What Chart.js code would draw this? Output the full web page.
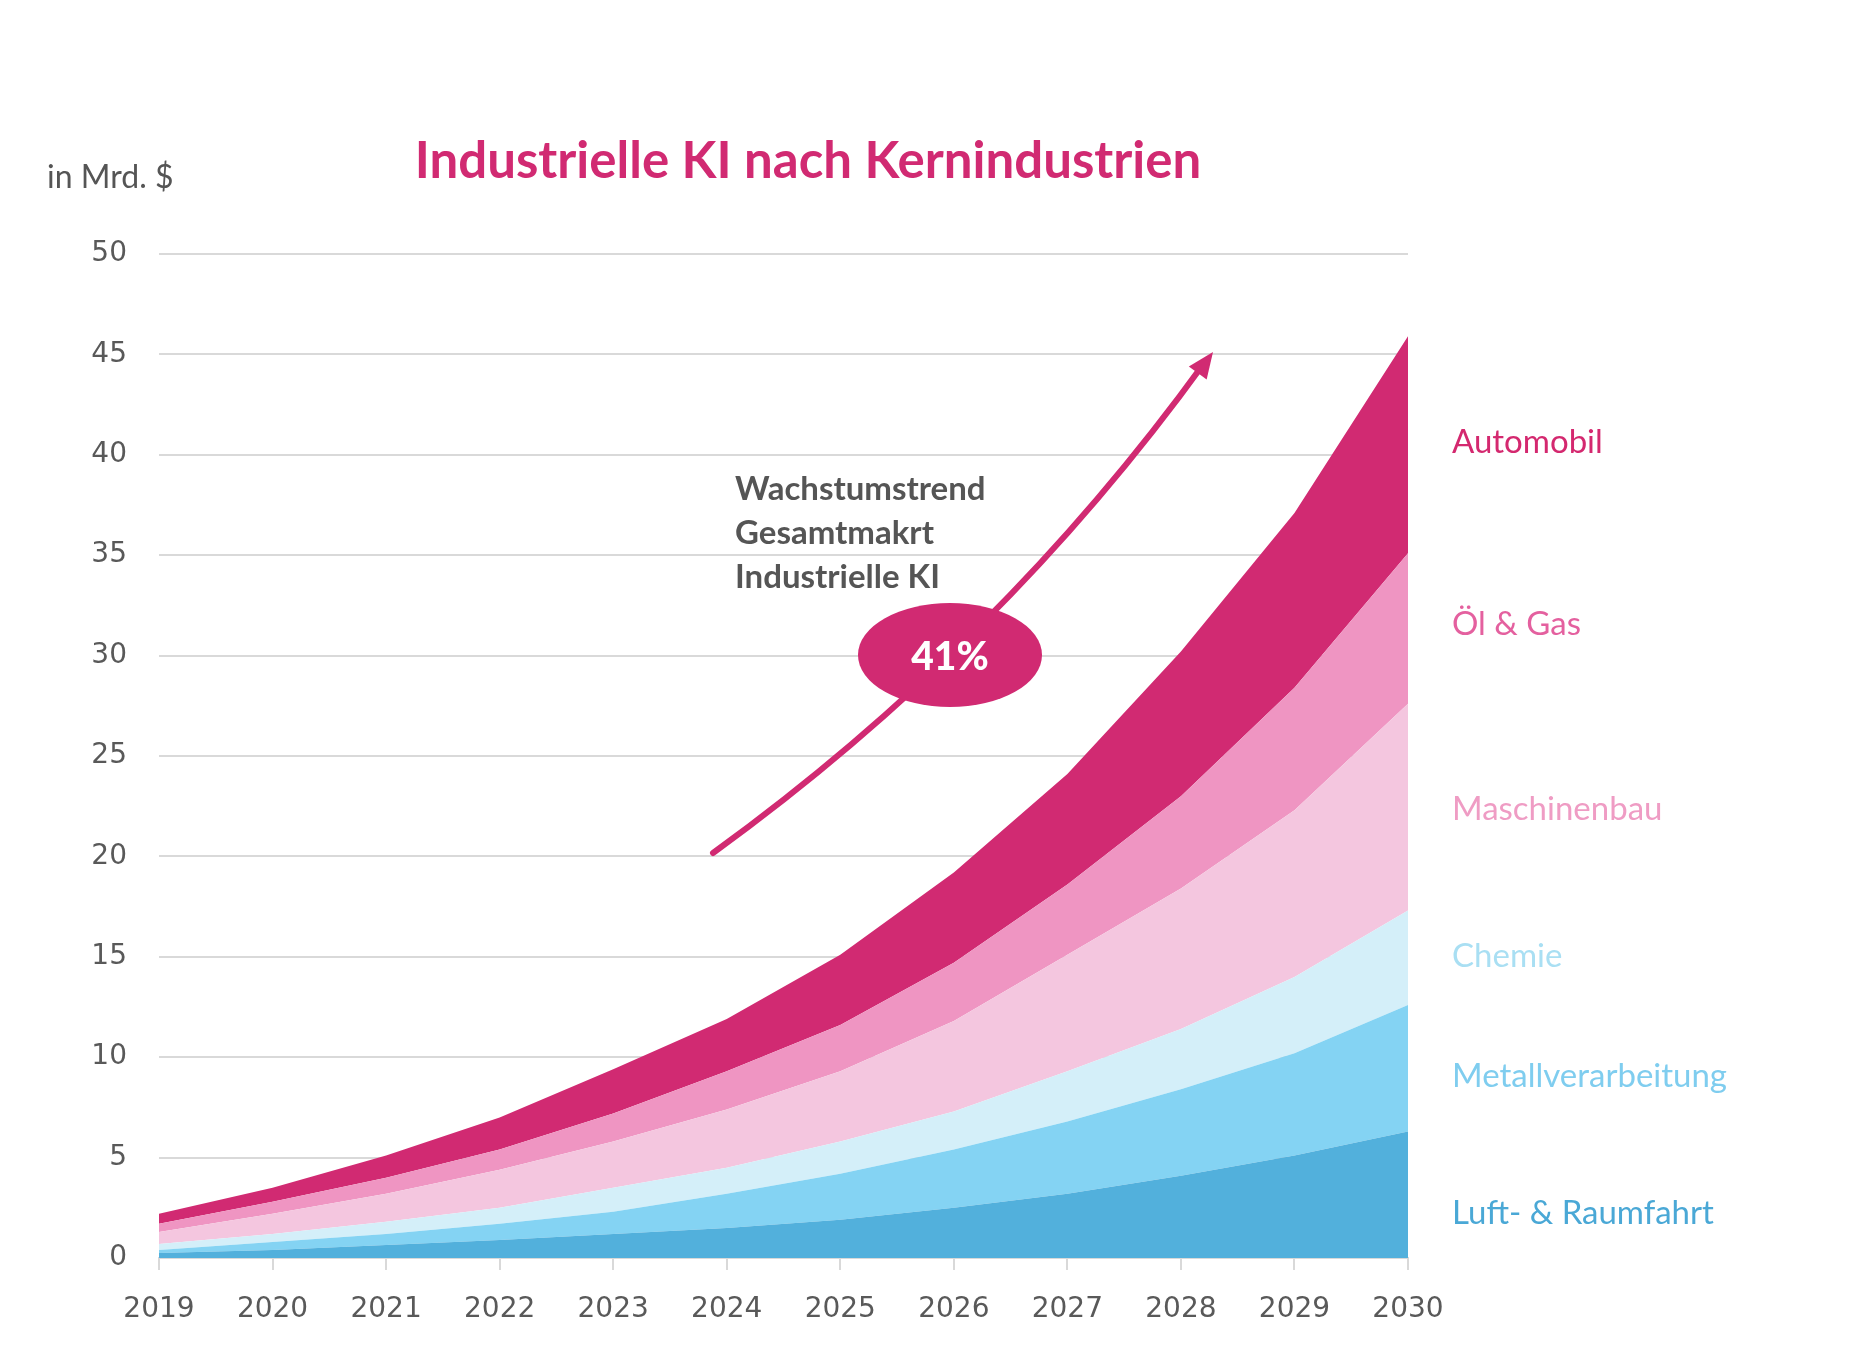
<!DOCTYPE html>
<html>
<head>
<meta charset="utf-8">
<script src="https://cdn.jsdelivr.net/npm/chart.js@4.4.1/dist/chart.umd.min.js"></script>
<style>
  html, body { margin: 0; padding: 0; background: #fff; }
  #wrap { width: 1858px; height: 1353px; position: relative; }
</style>
</head>
<body>
<div id="wrap"><canvas id="myChart" width="1858" height="1353"></canvas></div>
<script>
// data (in Mrd. $), stacked bottom to top
const years = ['2019', '2020', '2021', '2022', '2023', '2024', '2025', '2026', '2027', '2028', '2029', '2030'];
const luftRaumfahrt = [0.25, 0.4, 0.65, 0.9, 1.2, 1.5, 1.9, 2.5, 3.2, 4.1, 5.1, 6.3];
const metallverarbeitung = [0.15, 0.4, 0.55, 0.8, 1.1, 1.7, 2.3, 2.9, 3.6, 4.3, 5.1, 6.3];
const chemie = [0.3, 0.4, 0.6, 0.8, 1.2, 1.3, 1.6, 1.9, 2.5, 3.0, 3.8, 4.7];
const maschinenbau = [0.6, 1.0, 1.4, 1.9, 2.3, 2.9, 3.5, 4.5, 5.8, 7.0, 8.3, 10.3];
const oelGas = [0.4, 0.6, 0.8, 1.0, 1.4, 1.9, 2.3, 2.9, 3.5, 4.6, 6.1, 7.5];
const automobil = [0.5, 0.7, 1.1, 1.6, 2.2, 2.6, 3.5, 4.5, 5.5, 7.2, 8.7, 10.8];
const yTicks = [0, 5, 10, 15, 20, 25, 30, 35, 40, 45, 50];
const growthRate = '41%';

const magenta = '#d12a72';

function area(label, values, color, fillMode) {
  return {
    label: label,
    data: values,
    backgroundColor: color,
    borderColor: color,
    borderWidth: 0,
    pointRadius: 0,
    tension: 0,
    fill: fillMode
  };
}

const datasets = [
  area('Luft- & Raumfahrt', luftRaumfahrt, '#52b0dc', 'origin'),
  area('Metallverarbeitung', metallverarbeitung, '#84d3f3', '-1'),
  area('Chemie', chemie, '#d4eff9', '-1'),
  area('Maschinenbau', maschinenbau, '#f4c6df', '-1'),
  area('Öl & Gas', oelGas, '#ef95c2', '-1'),
  area('Automobil', automobil, magenta, '-1')
];

// labels at the right side, with their colours
const sideLabels = [
  { text: 'Automobil', y: 442, color: '#d4286f' },
  { text: 'Öl & Gas', y: 624, color: '#e4609f' },
  { text: 'Maschinenbau', y: 809, color: '#ef9cc4' },
  { text: 'Chemie', y: 956, color: '#a9dff3' },
  { text: 'Metallverarbeitung', y: 1076, color: '#7fcdef' },
  { text: 'Luft- & Raumfahrt', y: 1213, color: '#4aa8d6' }
];

const decorations = {
  id: 'decorations',
  afterDraw(chart) {
    const c = chart.ctx;
    c.save();

    // title
    c.fillStyle = magenta;
    c.font = 'bold 51px Lato';
    c.textAlign = 'center';
    c.textBaseline = 'middle';
    c.fillText('Industrielle KI nach Kernindustrien', 808, 162);

    // unit
    c.fillStyle = '#555555';
    c.font = '32px Lato';
    c.textAlign = 'left';
    c.fillText('in Mrd. $', 47, 178);

    // side labels
    c.font = '33px Lato';
    sideLabels.forEach(function (s) {
      c.fillStyle = s.color;
      c.fillText(s.text, 1452, s.y);
    });

    // trend arrow
    const x0 = 713, y0 = 853, cx = 1000, cy = 645, x1 = 1205, y1 = 362;
    c.strokeStyle = magenta;
    c.lineWidth = 6;
    c.lineCap = 'round';
    c.beginPath();
    c.moveTo(x0, y0);
    c.quadraticCurveTo(cx, cy, x1, y1);
    c.stroke();
    const ang = Math.atan2(y1 - cy, x1 - cx);
    const tipX = 1213, tipY = 352;
    c.fillStyle = magenta;
    c.beginPath();
    c.moveTo(tipX, tipY);
    c.lineTo(tipX - 26 * Math.cos(ang) + 11 * Math.sin(ang), tipY - 26 * Math.sin(ang) - 11 * Math.cos(ang));
    c.lineTo(tipX - 26 * Math.cos(ang) - 11 * Math.sin(ang), tipY - 26 * Math.sin(ang) + 11 * Math.cos(ang));
    c.closePath();
    c.fill();

    // annotation text
    c.fillStyle = '#555555';
    c.font = 'bold 33px Lato';
    c.textAlign = 'left';
    c.fillText('Wachstumstrend', 735, 489);
    c.fillText('Gesamtmakrt', 735, 533);
    c.fillText('Industrielle KI', 735, 577);

    // ellipse with growth rate
    c.fillStyle = magenta;
    c.beginPath();
    c.ellipse(950, 655, 92, 52, 0, 0, Math.PI * 2);
    c.fill();
    c.fillStyle = '#ffffff';
    c.font = '900 39px Lato';
    c.textAlign = 'center';
    c.fillText(growthRate, 950, 657);

    c.restore();
  }
};

const ctx = document.getElementById('myChart');
const myChart = new Chart(ctx, {
  type: 'line',
  data: { labels: years, datasets: datasets },
  options: {
    responsive: false,
    animation: false,
    devicePixelRatio: 1,
    layout: { padding: { left: 0, right: 450, top: 254, bottom: 0 } },
    plugins: {
      legend: { display: false },
      tooltip: { enabled: false },
      filler: { propagate: false }
    },
    scales: {
      x: {
        offset: false,
        grid: { drawOnChartArea: false, drawTicks: true, tickLength: 12, color: '#d9d9d9', lineWidth: 2 },
        border: { display: true, color: '#d9d9d9', width: 2 },
        ticks: { color: '#595959', font: { family: 'DejaVu Sans', size: 28 }, padding: 23, maxRotation: 0, autoSkip: false },
        afterFit(scale) { scale.height = 95; }
      },
      y: {
        stacked: true,
        min: 0,
        max: 50,
        afterBuildTicks(scale) { scale.ticks = yTicks.map(v => ({ value: v })); },
        grid: { drawTicks: false, color: '#d9d9d9', lineWidth: 2 },
        border: { display: false },
        ticks: { color: '#595959', font: { family: 'DejaVu Sans', size: 28 }, padding: 32 },
        afterFit(scale) { scale.width = 159; }
      }
    }
  },
  plugins: [decorations]
});
</script>
</body>
</html>
